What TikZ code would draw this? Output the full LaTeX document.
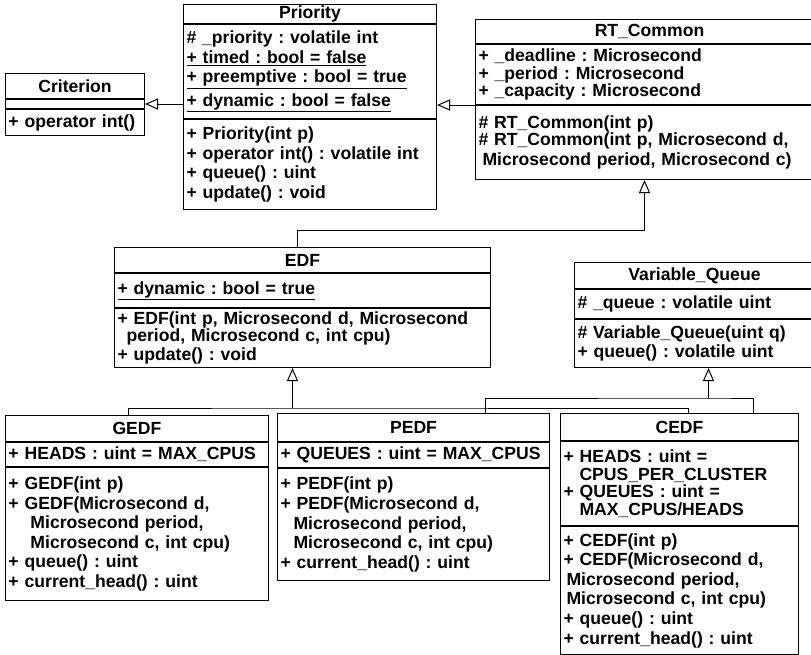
\documentclass[tikz,border=0pt]{standalone}
\usepackage{fontspec}
\setmainfont{Liberation Sans}
\usetikzlibrary{arrows.meta, positioning}

\newcommand{\umlfont}{\fontsize{17.6}{19.6}\selectfont\bfseries\frenchspacing}
% indented continuation line of a member
\newcommand{\cont}[2]{\mbox{\hspace{#1pt}#2}}

\begin{document}
\begin{tikzpicture}[x=1pt, y=-1pt,
    cbox/.style={draw, line width=1pt, inner xsep=3pt, inner ysep=0pt,
      align=left, font=\umlfont, text width=#1},
    cname/.style={cbox=#1, align=center},
    link/.style={line width=1pt},
    inherit/.style={link, -{Triangle[open, length=13pt, width=11pt]}}]
  \useasboundingbox (0,0) rectangle (811,654);
  \fill[white] (0,0) rectangle (811,654);

  % Criterion
  \node[cname=133pt, minimum height=25pt, anchor=north west] (crit) at (5,73) {Criterion};
  \node[cbox=133pt, minimum height=9pt, below=0pt of crit] (crit_attr) {};
  \node[cbox=133pt, minimum height=26pt, below=0pt of crit_attr] (crit_meth) {+ operator int()};

  % Priority
  \node[cname=247pt, minimum height=19pt, anchor=north west] (prio) at (183,4) {Priority};
  \node[cbox=247pt, minimum height=94pt, below=0pt of prio] (prio_attr)
    {\# \_priority : volatile int\\
     \underline{+ timed : bool = false}\\
     \underline{+ preemptive : bool = true}\\[4pt]
     \underline{+ dynamic : bool = false}};
  \node[cbox=247pt, minimum height=90pt, below=0pt of prio_attr] (prio_meth)
    {+ Priority(int p)\\
     + operator int() : volatile int\\
     + queue() : uint\\
     + update() : void};

  % RT_Common
  \node[cname=342pt, minimum height=24pt, anchor=north west] (rt) at (475,19) {RT\_Common};
  \node[cbox=342pt, minimum height=60pt, below=0pt of rt] (rt_attr)
    {+ \_deadline : Microsecond\\[-2pt]
     + \_period : Microsecond\\[-2pt]
     + \_capacity : Microsecond};
  \node[cbox=342pt, minimum height=74pt, below=0pt of rt_attr] (rt_meth)
    {\# RT\_Common(int p)\\[-3pt]
     \# RT\_Common(int p, Microsecond d,\\
     \cont{4}{Microsecond period, Microsecond c)}};

  % EDF
  \node[cname=370pt, minimum height=25pt, anchor=north west] (edf) at (114,247) {EDF};
  \node[cbox=370pt, minimum height=34pt, below=0pt of edf] (edf_attr)
    {\underline{+ dynamic : bool = true}};
  \node[cbox=370pt, minimum height=59pt, below=0pt of edf_attr] (edf_meth)
    {+ EDF(int p, Microsecond d, Microsecond\\[-2.6pt]
     \cont{9}{period, Microsecond c, int cpu)}\\
     + update() : void};

  % Variable_Queue
  \node[cname=234pt, minimum height=26pt, anchor=north west] (vq) at (574,262) {Variable\_Queue};
  \node[cbox=234pt, minimum height=29pt, below=0pt of vq] (vq_attr) {\# \_queue : volatile uint};
  \node[cbox=234pt, minimum height=48pt, below=0pt of vq_attr] (vq_meth)
    {\# Variable\_Queue(uint q)\\
     + queue() : volatile uint};

  % GEDF
  \node[cname=257pt, minimum height=26pt, anchor=north west] (gedf) at (5,415) {GEDF};
  \node[cbox=257pt, minimum height=24pt, below=0pt of gedf] (gedf_attr) {+ HEADS : uint = MAX\_CPUS};
  \node[cbox=257pt, minimum height=133pt, below=0pt of gedf_attr] (gedf_meth)
    {+ GEDF(int p)\\
     + GEDF(Microsecond d,\\
     \cont{22}{Microsecond period,}\\
     \cont{22}{Microsecond c, int cpu)}\\
     + queue() : uint\\
     + current\_head() : uint};

  % PEDF
  \node[cname=266pt, minimum height=28pt, anchor=north west] (pedf) at (277,413) {PEDF};
  \node[cbox=266pt, minimum height=25pt, below=0pt of pedf] (pedf_attr) {+ QUEUES : uint = MAX\_CPUS};
  \node[cbox=266pt, minimum height=112pt, below=0pt of pedf_attr] (pedf_meth)
    {+ PEDF(int p)\\
     + PEDF(Microsecond d,\\
     \cont{13}{Microsecond period,}\\
     \cont{13}{Microsecond c, int cpu)}\\
     + current\_head() : uint};

  % CEDF
  \node[cname=232pt, minimum height=27pt, anchor=north west] (cedf) at (560,413) {CEDF};
  \node[cbox=232pt, minimum height=84pt, below=0pt of cedf] (cedf_attr)
    {+ HEADS : uint =\\[-2pt]
     \cont{16}{CPUS\_PER\_CLUSTER}\\[-2pt]
     + QUEUES : uint =\\[-2pt]
     \cont{16}{MAX\_CPUS/HEADS}};
  \node[cbox=232pt, minimum height=128pt, below=0pt of cedf_attr] (cedf_meth)
    {+ CEDF(int p)\\
     + CEDF(Microsecond d,\\
     \cont{3}{Microsecond period,}\\
     \cont{3}{Microsecond c, int cpu)}\\
     + queue() : uint\\
     + current\_head() : uint};

  % generalisations
  \draw[inherit] (prio_attr.west |- crit_attr.east) -- (crit_attr.east);
  \draw[inherit] (rt_attr.south west) -- (prio_attr.east |- rt_attr.south west);

  \path ([xshift=-5pt]rt_meth.south) ++(0,50) coordinate (rt_bus);
  \draw[inherit] ([xshift=-5pt]edf.north) |- (rt_bus) -- ([xshift=-5pt]rt_meth.south);

  \path ([xshift=-10pt]edf_meth.south) ++(0,40) coordinate (edf_bus);
  \draw[link] ([xshift=-8.5pt]gedf.north) |- (edf_bus) -| ([xshift=9pt]cedf.north);
  \draw[inherit] (edf_bus) -- ([xshift=-10pt]edf_meth.south);

  \path ([xshift=14pt]vq_meth.south) ++(0,30) coordinate (vq_bus);
  \draw[link] ([xshift=72pt]pedf.north) |- (vq_bus) -| ([xshift=74pt]cedf.north);
  \draw[inherit] (vq_bus) -- ([xshift=14pt]vq_meth.south);
\end{tikzpicture}
\end{document}
